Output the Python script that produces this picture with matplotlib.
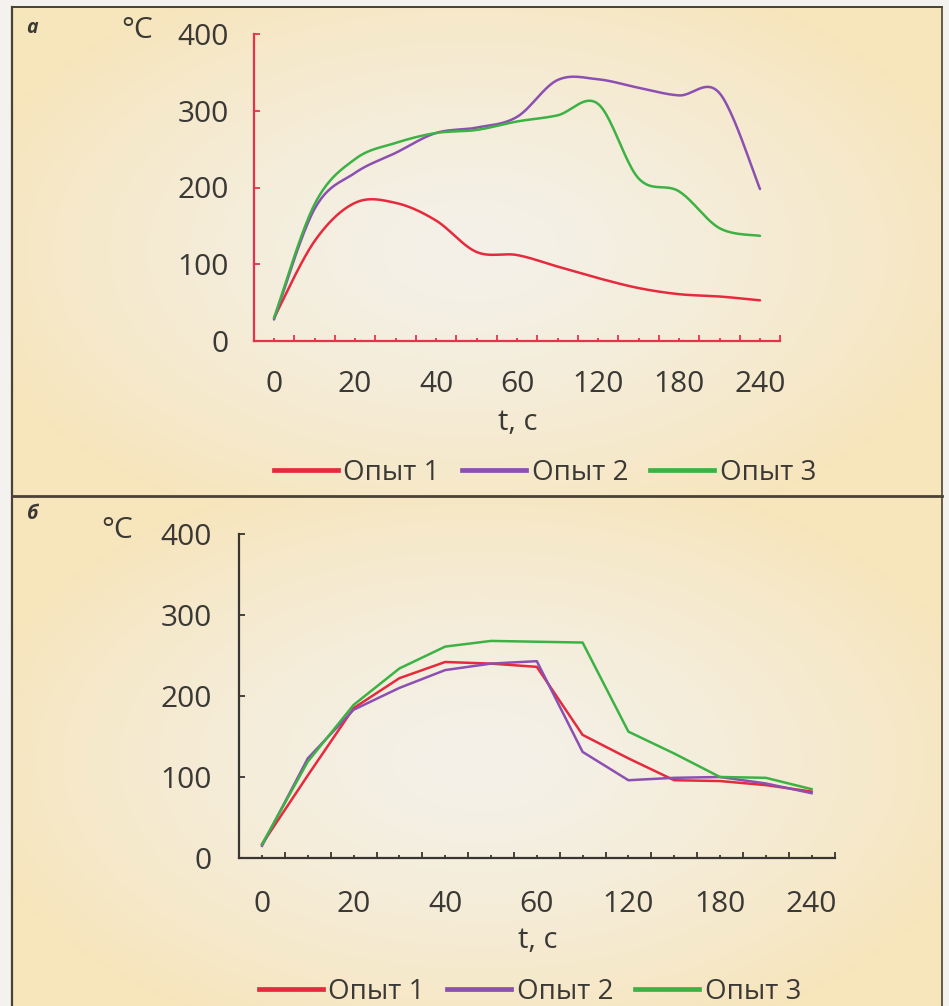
import numpy as np
import matplotlib
matplotlib.use('Agg')
import matplotlib.pyplot as plt
from matplotlib.lines import Line2D

plt.rcParams['font.family'] = ['Open Sans', 'DejaVu Sans']

# time points (s) - plotted as evenly spaced categories
t_sec = [0, 10, 20, 30, 40, 50, 60, 90, 120, 150, 180, 210, 240]
series_names = ['Опыт 1', 'Опыт 2', 'Опыт 3']
colors = ['#e62a3e', '#8c4fb2', '#3cb244']

# panel a, temperature, °C
a_run1 = [30, 130, 180, 180, 157, 116, 112, 97, 82, 69, 61, 58, 53]
a_run2 = [28, 172, 219, 245, 271, 278, 292, 340, 341, 330, 320, 323, 198]
a_run3 = [30, 178, 237, 258, 271, 275, 286, 294, 309, 212, 195, 147, 137]

# panel b, temperature, °C
b_run1 = [17, 102, 185, 222, 242, 240, 236, 152, 123, 96, 95, 90, 82]
b_run2 = [15, 123, 183, 210, 232, 240, 243, 131, 96, 99, 100, 92, 80]
b_run3 = [17, 119, 189, 234, 261, 268, 267, 266, 156, 129, 100, 99, 85]

W, H = 949, 1006
TXT = '#3b3936'


def smooth(x, y, n=24):
    # bezier smoothing through the points (same idea as excel "smoothed line")
    x = np.asarray(x, float)
    y = np.asarray(y, float)
    px = np.concatenate([[x[0]], x, [x[-1]]])
    py = np.concatenate([[y[0]], y, [y[-1]]])
    s = np.linspace(0, 1, n, endpoint=False)[:, None]
    out_x, out_y = [], []
    for i in range(1, len(px) - 2):
        for p, out in ((px, out_x), (py, out_y)):
            p0, p1, p2, p3 = p[i - 1], p[i], p[i + 1], p[i + 2]
            c1 = p1 + (p2 - p0) / 6.0
            c2 = p2 - (p3 - p1) / 6.0
            b = ((1 - s) ** 3 * p1 + 3 * (1 - s) ** 2 * s * c1
                 + 3 * (1 - s) * s ** 2 * c2 + s ** 3 * p2)
            out.extend(b.ravel())
    out_x.append(x[-1])
    out_y.append(y[-1])
    return np.array(out_x), np.array(out_y)


def px_rect(x0, x1, y0, y1):
    return [x0 / W, 1 - y1 / H, (x1 - x0) / W, (y1 - y0) / H]


fig = plt.figure(figsize=(W / 100, H / 100), dpi=100)

# background: page grey + cream panels with lighter middle
bg = fig.add_axes([0, 0, 1, 1])
bg.set_xlim(0, W)
bg.set_ylim(H, 0)
bg.axis('off')
img = np.ones((H, W, 3)) * np.array([243, 242, 239]) / 255
YY, XX = np.mgrid[0:H, 0:W]
edge = np.array([247, 229, 188]) / 255
mid = np.array([244, 241, 233]) / 255
for (y0, y1, cx, cy) in ((7, 496, 470, 250), (496, H, 480, 760)):
    d = np.sqrt(((XX - cx) / 520.0) ** 2 + ((YY - cy) / 300.0) ** 2)
    w = np.clip(d, 0, 1) ** 1.4
    blend = mid * (1 - w[..., None]) + edge * w[..., None]
    m = (YY >= y0) & (YY < y1) & (XX >= 12) & (XX <= 942)
    img[m] = blend[m]
bg.imshow(img, extent=(0, W, H, 0), aspect='auto', interpolation='bilinear')
frame_c = '#4a4234'
bg.plot([12, 12], [7, H], color=frame_c, lw=1.6)
bg.plot([942, 942], [7, H], color=frame_c, lw=1.2)
bg.plot([12, 942], [7, 7], color=frame_c, lw=1.4)
bg.plot([12, 942], [496, 496], color=frame_c, lw=2.0)

panels = [
    dict(data=[a_run1, a_run2, a_run3], rect=px_rect(253.75, 780.25, 34, 341),
         axis_c='#e8324a', smooth=True, letter='а', letter_xy=(26, 28),
         deg_xy=(137, 30), ylab_pad=18, xlab_pad=21, xlabel_xy=(518, 423),
         leg_xy=(545, 473)),
    dict(data=[b_run1, b_run2, b_run3], rect=px_rect(239.1, 834.5, 534, 858),
         axis_c='#383532', smooth=False, letter='б', letter_xy=(27, 514),
         deg_xy=(117, 530), ylab_pad=19.5, xlab_pad=23, xlabel_xy=(538, 940),
         leg_xy=(530, 992)),
]

xpos = np.arange(len(t_sec))
xlabels = [str(t) if i % 2 == 0 else '' for i, t in enumerate(t_sec)]

for p in panels:
    ax = fig.add_axes(p['rect'])
    ax.patch.set_alpha(0)
    for run, c in zip(p['data'], colors):
        if p['smooth']:
            sx, sy = smooth(xpos, run)
            ax.plot(sx, sy, color=c, lw=1.8, solid_capstyle='round')
        else:
            ax.plot(xpos, run, color=c, lw=1.8, solid_joinstyle='round')
    ax.set_xlim(-0.5, len(t_sec) - 0.5)
    ax.set_ylim(0, 400)
    for s in ['top', 'right']:
        ax.spines[s].set_visible(False)
    for s in ['left', 'bottom']:
        ax.spines[s].set_color(p['axis_c'])
        ax.spines[s].set_linewidth(1.6)
    ax.set_yticks([0, 100, 200, 300, 400])
    ax.tick_params(axis='y', direction='in', length=4.5, width=1.3,
                   color=p['axis_c'], pad=p['ylab_pad'], labelsize=21.5,
                   labelcolor=TXT)
    ax.set_xticks(xpos)
    ax.set_xticklabels(xlabels)
    ax.set_xticks(np.arange(-0.5, len(t_sec), 1), minor=True)
    ax.tick_params(axis='x', which='major', direction='in', length=2,
                   width=1.3, color=p['axis_c'], pad=p['xlab_pad'],
                   labelsize=21.5, labelcolor=TXT)
    ax.tick_params(axis='x', which='minor', direction='in', length=4.5,
                   width=1.3, color=p['axis_c'])

    fig.text(p['letter_xy'][0] / W, 1 - p['letter_xy'][1] / H, p['letter'],
             fontsize=14, fontweight='bold', fontstyle='italic', color=TXT,
             ha='left', va='center')
    fig.text(p['deg_xy'][0] / W, 1 - p['deg_xy'][1] / H, '°C', fontsize=21.5,
             color=TXT, ha='center', va='center')
    fig.text(p['xlabel_xy'][0] / W, 1 - p['xlabel_xy'][1] / H, 't, c',
             fontsize=21, color=TXT, ha='center', va='center')

    handles = [Line2D([], [], color=c, lw=3.4) for c in colors]
    fig.legend(handles, series_names, loc='center',
               bbox_to_anchor=(p['leg_xy'][0] / W, 1 - p['leg_xy'][1] / H),
               ncol=3, frameon=False, fontsize=20, handlelength=2.3,
               handletextpad=0.2, columnspacing=0.8, labelcolor=TXT,
               borderpad=0, borderaxespad=0)

fig.savefig('out.png', dpi=100)
